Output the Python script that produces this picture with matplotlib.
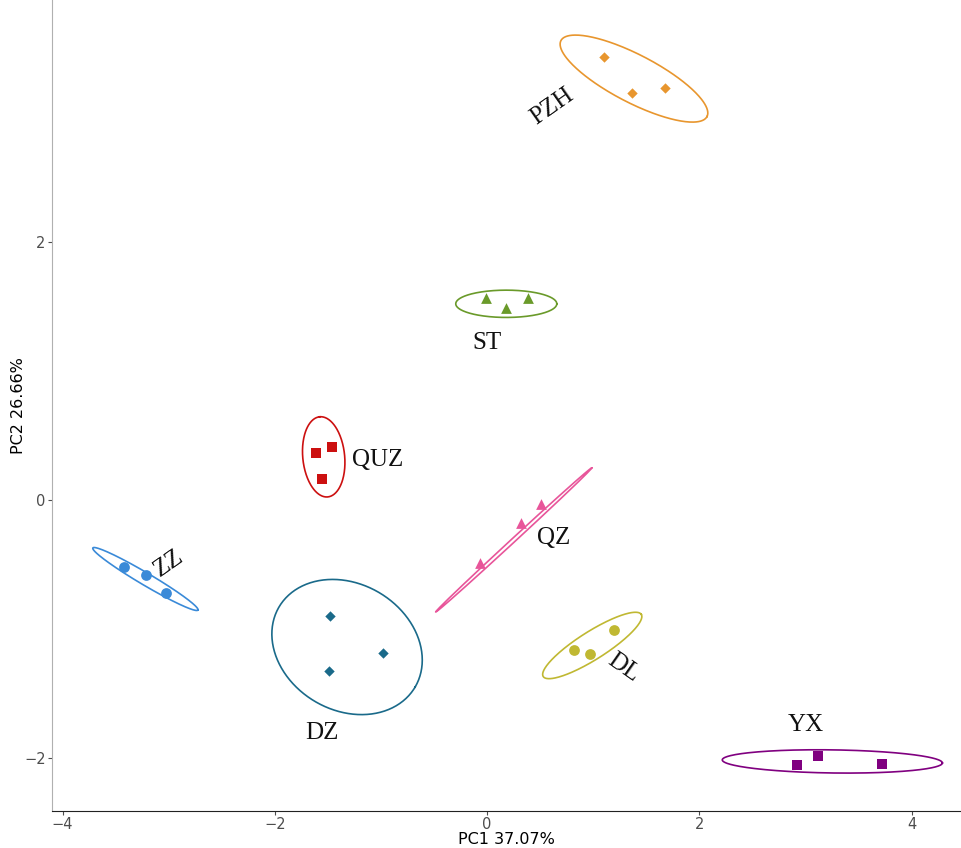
import numpy as np
import matplotlib
matplotlib.use("Agg")
import matplotlib.pyplot as plt

# PCA scores per site (3 samples each)
groups = ["PZH", "ST", "QUZ", "ZZ", "QZ", "DZ", "DL", "YX"]
pc1 = {
    "PZH": [1.10, 1.365, 1.676],
    "ST": [-0.01, 0.18, 0.38],
    "QUZ": [-1.614, -1.463, -1.557],
    "ZZ": [-3.422, -3.215, -3.026],
    "QZ": [-0.068, 0.319, 0.507],
    "DZ": [-1.48, -0.98, -1.49],
    "DL": [0.82, 0.97, 1.195],
    "YX": [2.92, 3.12, 3.72],
}
pc2 = {
    "PZH": [3.44, 3.16, 3.20],
    "ST": [1.569, 1.49, 1.569],
    "QUZ": [0.365, 0.41, 0.163],
    "ZZ": [-0.52, -0.583, -0.723],
    "QZ": [-0.489, -0.179, -0.031],
    "DZ": [-0.90, -1.188, -1.328],
    "DL": [-1.165, -1.196, -1.01],
    "YX": [-2.058, -1.988, -2.05],
}
colors = {
    "PZH": "#e8962e", "ST": "#6a9a2a", "QUZ": "#cc1010", "ZZ": "#3a8ad8",
    "QZ": "#e8559a", "DZ": "#1a6a8a", "DL": "#c0b832", "YX": "#800080",
}
markers = {
    "PZH": "D", "ST": "^", "QUZ": "s", "ZZ": "o",
    "QZ": "^", "DZ": "D", "DL": "o", "YX": "s",
}
msize = {"PZH": 28, "ST": 60, "QUZ": 55, "ZZ": 60, "QZ": 60, "DZ": 28, "DL": 60, "YX": 55}

# ellipse: centre, major semi-axis end offset (data units), minor/major ratio (screen)
ell_center = {
    "PZH": (1.383, 3.27), "ST": (0.18, 1.522), "QUZ": (-1.54, 0.334), "ZZ": (-3.22, -0.614),
    "QZ": (0.25, -0.311), "DZ": (-1.32, -1.142), "DL": (0.99, -1.13), "YX": (3.252, -2.03),
}
ell_major = {
    "PZH": (0.688, -0.295), "ST": (0.476, 0.0), "QUZ": (-0.038, 0.311), "ZZ": (0.495, -0.241),
    "QZ": (0.735, 0.559), "DZ": (0.641, -0.311), "DL": (0.462, 0.241), "YX": (1.037, -0.012),
}
ell_ratio = {
    "PZH": 0.29, "ST": 0.27, "QUZ": 0.52, "ZZ": 0.10,
    "QZ": 0.018, "DZ": 0.80, "DL": 0.24, "YX": 0.105,
}

labels = {
    "PZH": (0.61, 3.05, 35), "ST": (0.0, 1.22, 0), "QUZ": (-1.035, 0.31, 0),
    "ZZ": (-3.0, -0.49, 35), "QZ": (0.63, -0.295, 0), "DZ": (-1.555, -1.81, 0),
    "DL": (1.28, -1.305, -35), "YX": (3.0, -1.75, 0),
}

fig = plt.figure(figsize=(9.61, 8.48), dpi=100)
ax = fig.add_axes([0.0541, 0.0436, 0.945, 0.9564])
xlim = (-4.10, 4.456)
ylim = (-2.415, 3.88)
ax.set_xlim(*xlim)
ax.set_ylim(*ylim)

# pixels per data unit ratio (y over x)
bbox = ax.get_window_extent()
r = (bbox.height / (ylim[1] - ylim[0])) / (bbox.width / (xlim[1] - xlim[0]))

t = np.linspace(0, 2 * np.pi, 300)
for g in groups:
    cx, cy = ell_center[g]
    ux, uy = ell_major[g]
    f = ell_ratio[g]
    vx, vy = -uy * r * f, ux * f / r
    ex = cx + np.cos(t) * ux + np.sin(t) * vx
    ey = cy + np.cos(t) * uy + np.sin(t) * vy
    ax.plot(ex, ey, color=colors[g], lw=1.2)
    ax.scatter(pc1[g], pc2[g], color=colors[g], marker=markers[g], s=msize[g],
               linewidths=0, zorder=3)
    lx, ly, rot = labels[g]
    ax.text(lx, ly, g, fontsize=18, family="Liberation Serif", rotation=rot,
            ha="center", va="center", color="#111111")

ax.set_xticks([-4, -2, 0, 2, 4])
ax.set_yticks([-2, 0, 2])
ax.tick_params(labelsize=10.5, colors="#4d4d4d", length=3, width=0.8, pad=1.5)
for s in ["top", "right"]:
    ax.spines[s].set_visible(False)
ax.spines["left"].set_color("#b0b0b0")
ax.spines["bottom"].set_color("#222222")
ax.set_xlabel("PC1 37.07%", fontsize=11.5, labelpad=0)
ax.set_ylabel("PC2 26.66%", fontsize=11.5, va="center")
ax.yaxis.set_label_coords(-0.037, 0.5)

fig.savefig("out.png", dpi=100)
